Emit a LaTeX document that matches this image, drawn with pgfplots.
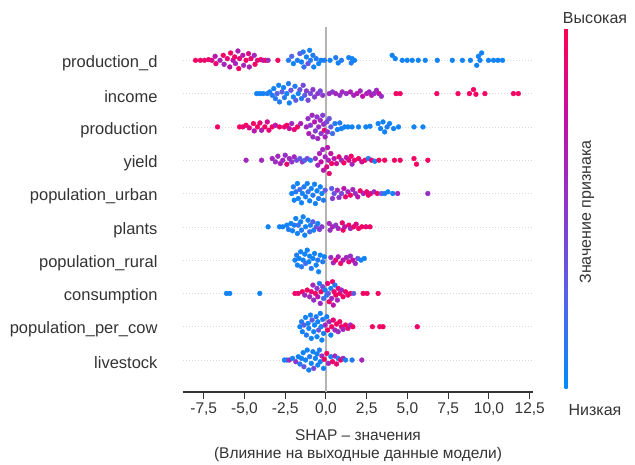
\documentclass[border=0pt]{standalone}
\usepackage{pgfplots}
\pgfplotsset{compat=1.18}
\usepackage{fontspec}
\setmainfont{Liberation Sans}
\definecolor{zeroline}{HTML}{B4B4B4}
\definecolor{spine}{HTML}{333333}
\definecolor{gridc}{HTML}{DADADA}
\pgfplotsset{
  colormap={shap}{rgb255(0cm)=(0,139,250); rgb255(1cm)=(85,100,235); rgb255(2cm)=(140,55,205); rgb255(3cm)=(195,15,165); rgb255(4cm)=(255,0,82)},
  bees/.style={scatter, only marks, mark=*, mark size=2.4pt, point meta=explicit,
    scatter/use mapped color={draw=mapped color, fill=mapped color}}
}
\begin{document}
\begin{tikzpicture}
\path[use as bounding box] (-183pt,-72pt) rectangle (452pt,392pt);
\begin{axis}[
  at={(0pt,0pt)}, anchor=south west,
  scale only axis, width=350pt, height=365pt,
  xmin=-8.77, xmax=12.7, ymin=0.04, ymax=11,
  axis x line*=bottom, axis y line*=left,
  x axis line style={spine, line width=1.2pt, -},
  y axis line style={draw=none},
  xtick={-7.5,-5,-2.5,0,2.5,5,7.5,10,12.5},
  ytick={1,2,3,4,5,6,7,8,9,10},
  yticklabels={livestock, population\_per\_cow, consumption, population\_rural, plants, population\_urban, yield, production, income, production\_d},
  tick align=outside, major tick length=7pt,
  x tick style={spine, line width=1pt},
  y tick style={draw=none},
  xticklabel style={font=\fontsize{15.5}{18}\selectfont, text=spine},
  yticklabel style={font=\fontsize{16.5}{19}\selectfont, text=spine, xshift=-15pt, yshift=-3pt},
  /pgf/number format/.cd, fixed, fixed zerofill, precision=1, use comma, assume math mode=true,
  /pgfplots/.cd,
  xlabel={SHAP – значения\\(Влияние на выходные данные модели)},
  xlabel style={align=center, font=\fontsize{15.5}{18}\selectfont, text=spine, yshift=-7pt},
  colormap name=shap,
  point meta min=0, point meta max=1,
  colorbar,
  colorbar style={at={(parent axis.north east)}, anchor=north west, xshift=23pt, yshift=-1pt,
    scale only axis, width=3pt, height=360pt, ytick=\empty, xtick=\empty,
    axis line style={draw=none}, major tick length=0pt},
]
\pgfplotsinvokeforeach{1,...,10}{\draw[gridc, line width=0.5pt, dash pattern=on 0.5pt off 2.5pt] (axis cs:-8.77,#1) -- (axis cs:12.7,#1);}
% production_d
\addplot[bees] table[x=x,y=y,meta=c] {
x y c
-8.0 10 0.95
-7.7 10 0.95
-7.45 10 0.9
-7.2 10.02 0.95
-7.0 10 0.85
-6.8 10.12 0.7
-6.75 9.9 0.9
-6.5 10 0.65
-6.3 10.15 0.95
-6.25 9.88 0.6
-6.05 10.05 0.9
-5.9 9.8 0.75
-5.85 10.22 0.95
-5.7 10 0.7
-5.6 10.1 0.95
-5.55 9.9 0.6
-5.4 10.28 0.65
-5.35 9.75 0.95
-5.3 10.05 0.9
-5.1 10.15 0.7
-5.05 9.85 0.6
-4.9 10 0.95
-4.75 10.2 0.85
-4.7 9.8 0.65
-4.6 10.05 0.9
-4.4 10.15 0.6
-4.35 9.88 0.95
-4.2 10 0.9
-4.0 10.02 0.95
-3.85 10 0.7
-3.7 10 0.95
-3.55 10 0.6
-2.95 10 0.95
-2.3 10 0.1
-2.1 10.12 0.25
-2.0 9.9 0.05
-1.75 10 0.1
-1.6 10.2 0.3
-1.5 9.95 0.05
-1.4 10.25 0.1
-1.35 9.8 0.15
-1.2 10.1 0.05
-1.1 9.9 0.35
-1.0 10.3 0.05
-0.95 10 0.1
-0.8 10.15 0.1
-0.75 9.8 0.05
-0.6 10.05 0.1
-0.45 9.9 0.05
-0.3 10 0.05
-0.1 10 0.1
0.25 10 0.05
0.6 10.08 0.1
0.75 9.92 0.05
0.95 10 0.1
1.4 10.08 0.05
1.55 9.92 0.1
1.6 10.05 0.05
1.75 10 0.05
4.06 10.15 0.05
4.25 10.05 0.05
4.68 10 0.05
4.98 10 0.05
5.29 10 0.05
5.66 10 0.05
6.09 10 0.05
6.83 10 0.05
7.75 10 0.05
8.37 10 0.05
8.86 10 0.05
9.25 9.85 0.05
9.35 10.12 0.05
9.45 10 0.05
9.55 10.22 0.05
9.97 10 0.05
10.28 10 0.05
10.55 10 0.05
10.83 10 0.05
};
% income
\addplot[bees] table[x=x,y=y,meta=c] {
x y c
-4.25 9 0.05
-4.05 9 0.05
-3.85 9 0.05
-3.6 9 0.1
-3.45 9.05 0.05
-3.3 8.95 0.1
-3.2 9.15 0.05
-3.1 8.85 0.1
-3.0 9 0.25
-2.9 9.25 0.05
-2.85 8.75 0.1
-2.7 9.05 0.3
-2.6 9.18 0.05
-2.55 8.88 0.1
-2.4 9 0.05
-2.3 9.3 0.1
-2.25 8.72 0.05
-2.15 9.1 0.35
-2.0 8.9 0.05
-1.9 9.22 0.1
-1.85 8.8 0.3
-1.7 9 0.05
-1.6 9.12 0.35
-1.5 8.85 0.1
-1.4 9.25 0.4
-1.3 8.95 0.3
-1.2 9.08 0.45
-1.1 8.8 0.4
-0.95 9 0.4
-0.8 9.12 0.5
-0.7 8.9 0.45
-0.5 9 0.5
-0.35 9.08 0.4
-0.2 8.95 0.5
0.2 9 0.55
0.4 9.05 0.5
0.6 9 0.6
0.85 8.95 0.55
1.0 9.05 0.6
1.25 9 0.55
1.5 9.05 0.65
1.7 8.95 0.6
1.9 9 0.7
2.1 9.08 0.6
2.25 8.92 0.75
2.5 9 0.65
2.65 9.05 0.6
2.8 8.95 0.7
2.95 9 0.55
3.1 9.1 0.6
3.25 9 0.75
3.4 8.92 0.55
4.3 9 0.95
4.55 9 0.95
6.8 9 0.95
8.1 9 0.95
8.8 9 0.95
9.05 9.12 0.95
9.2 8.98 0.95
9.75 9 0.95
11.5 9 0.95
11.8 9 0.95
};
% production
\addplot[bees] table[x=x,y=y,meta=c] {
x y c
-6.65 8 0.95
-5.3 8 0.95
-5.1 8 0.9
-4.9 8.05 0.95
-4.7 7.97 0.85
-4.45 8.1 0.95
-4.4 7.88 0.7
-4.2 8 0.95
-4.05 8.12 0.9
-3.95 7.9 0.65
-3.75 8 0.95
-3.6 8.15 0.8
-3.5 7.9 0.9
-3.3 8 0.95
-3.1 8.05 0.7
-2.85 8 0.95
-2.55 8 0.9
-2.4 8.05 0.95
-2.25 7.95 0.75
-2.1 8.1 0.6
-1.95 7.92 0.9
-1.75 8 0.95
-1.55 8.1 0.65
-1.2 8 0.6
-1.1 8.25 0.55
-1.05 7.8 0.65
-0.95 8.05 0.5
-0.85 8.35 0.6
-0.8 7.7 0.55
-0.7 8.15 0.7
-0.65 7.88 0.45
-0.55 8.3 0.5
-0.5 7.65 0.6
-0.45 8 0.55
-0.35 8.2 0.6
-0.3 7.8 0.5
-0.2 8.35 0.45
-0.15 8.08 0.55
-0.1 7.9 0.9
-0.05 7.7 0.6
0.05 8.15 0.4
0.1 7.85 0.55
0.2 8.25 0.35
0.3 8 0.3
0.4 7.8 0.2
0.55 8.1 0.1
0.7 7.92 0.05
0.85 8.12 0.1
0.95 7.95 0.05
1.15 8 0.05
1.35 8 0.05
1.6 8 0.05
2.0 8 0.05
2.45 8 0.05
2.7 8.02 0.05
3.2 8.1 0.05
3.35 7.95 0.05
3.5 8.15 0.05
3.6 7.85 0.05
3.75 8 0.1
3.9 8.1 0.05
4.15 7.95 0.05
4.45 8 0.05
5.4 8 0.05
5.95 8 0.05
};
% yield
\addplot[bees] table[x=x,y=y,meta=c] {
x y c
-4.9 7 0.6
-3.95 7 0.6
-3.3 7.05 0.6
-3.1 6.95 0.55
-2.95 7.12 0.6
-2.8 6.9 0.65
-2.65 7 0.6
-2.5 7.15 0.55
-2.4 6.88 0.9
-2.25 7.05 0.6
-2.1 6.95 0.5
-1.95 7.1 0.6
-1.8 7 0.4
-1.6 7.05 0.3
-1.45 6.95 0.5
-1.3 7 0.2
-1.15 7.05 0.4
-0.95 7 0.1
-0.65 7.05 0.55
-0.5 6.85 0.6
-0.4 7.2 0.65
-0.3 6.95 0.75
-0.2 7.32 0.6
-0.15 6.7 0.7
-0.05 7.1 0.6
0.05 6.8 0.85
0.1 7.38 0.7
0.15 7 0.65
0.2 6.6 0.9
0.3 7.2 0.75
0.35 6.9 0.95
0.5 7.05 0.7
0.65 6.9 0.8
0.8 7.1 0.9
0.95 7 0.6
1.1 6.92 0.95
1.25 7.08 0.7
1.4 7 0.85
1.55 7.12 0.95
1.6 6.88 0.6
1.75 7 0.9
2.0 7.05 0.95
2.2 6.95 0.8
2.4 7 0.95
2.6 7.05 0.1
2.8 7 0.9
3.0 6.97 0.05
3.25 7 0.95
3.6 7 0.95
4.2 7 0.95
4.55 7 0.95
5.4 7.05 0.95
5.55 6.88 0.95
6.25 7 0.95
};
% population_urban
\addplot[bees] table[x=x,y=y,meta=c] {
x y c
-2.1 6 0.05
-2.0 6.2 0.1
-1.95 5.8 0.05
-1.85 6.05 0.1
-1.75 6.3 0.05
-1.7 5.85 0.05
-1.6 6.12 0.2
-1.5 5.72 0.05
-1.45 6 0.05
-1.35 6.2 0.1
-1.25 5.9 0.05
-1.15 6.3 0.05
-1.1 6.05 0.15
-1.0 5.78 0.05
-0.9 6.15 0.05
-0.8 5.95 0.1
-0.7 6.28 0.05
-0.65 5.7 0.05
-0.55 6.08 0.05
-0.45 5.85 0.1
-0.35 6.2 0.05
-0.25 6 0.05
-0.15 5.8 0.1
-0.05 6.1 0.3
0.35 6.15 0.3
0.4 5.85 0.5
0.5 6 0.35
0.7 6.1 0.6
0.8 5.88 0.5
0.95 6 0.4
1.1 6.15 0.7
1.2 5.9 0.9
1.35 6.05 0.6
1.5 5.95 0.95
1.65 6.12 0.6
1.8 6 0.55
1.95 5.9 0.7
2.1 6.08 0.95
2.3 6 0.65
2.5 6.05 0.9
2.6 5.95 0.95
2.75 6 0.85
2.95 6.05 0.6
3.15 6 0.95
3.4 6 0.3
3.6 6 0.1
3.8 6.05 0.05
4.1 6 0.05
4.4 6 0.6
6.25 6 0.55
};
% plants
\addplot[bees] table[x=x,y=y,meta=c] {
x y c
-3.55 5 0.05
-2.85 5 0.05
-2.65 5 0.05
-2.4 5.05 0.05
-2.3 4.92 0.1
-2.15 5.1 0.05
-2.05 4.88 0.05
-1.95 5.05 0.1
-1.85 5.25 0.05
-1.75 4.8 0.05
-1.7 5.05 0.15
-1.55 5.15 0.05
-1.5 4.9 0.1
-1.4 5.3 0.05
-1.3 4.75 0.05
-1.25 5 0.05
-1.1 5.2 0.05
-1.0 4.85 0.2
-0.95 5.05 0.05
-0.8 5.15 0.3
-0.75 4.9 0.05
-0.6 5 0.35
-0.5 5.1 0.05
-0.4 4.92 0.45
-0.25 5 0.5
0.2 5.1 0.6
0.25 4.9 0.55
0.4 5 0.65
0.6 5.05 0.5
0.75 4.95 0.6
1.0 5.12 0.9
1.05 4.9 0.95
1.15 5 0.7
1.4 5.05 0.95
1.5 4.95 0.6
1.7 5 0.95
1.85 5.08 0.85
2.0 4.95 0.95
2.2 5 0.95
2.45 5 0.9
2.7 5 0.95
};
% population_rural
\addplot[bees] table[x=x,y=y,meta=c] {
x y c
-1.9 4 0.05
-1.8 4.15 0.1
-1.75 3.85 0.05
-1.65 4.05 0.05
-1.55 4.25 0.05
-1.5 3.8 0.1
-1.4 4 0.05
-1.3 4.18 0.05
-1.25 3.9 0.2
-1.15 4.3 0.05
-1.05 3.95 0.05
-1.0 4.12 0.05
-0.9 3.75 0.1
-0.8 4.05 0.05
-0.7 4.2 0.05
-0.6 3.85 0.05
-0.5 4 0.1
-0.45 3.65 0.05
-0.35 4.15 0.05
-0.2 3.95 0.1
-0.1 4.1 0.05
0.3 4.08 0.55
0.45 3.92 0.6
0.6 4 0.9
0.75 4.1 0.65
0.9 3.9 0.95
1.05 4 0.7
1.25 4.08 0.6
1.4 3.95 0.9
1.5 4.12 0.55
1.65 4 0.75
1.8 3.9 0.6
1.95 4.05 0.3
2.15 4 0.05
2.35 4.05 0.05
};
% consumption
\addplot[bees] table[x=x,y=y,meta=c] {
x y c
-6.1 3 0.05
-5.9 3 0.05
-4.06 3 0.05
-1.9 3 0.95
-1.7 3 0.9
-1.45 3.05 0.95
-1.3 2.95 0.6
-1.15 3.1 0.95
-1.0 2.9 0.6
-0.9 3.05 0.9
-0.8 3.25 0.6
-0.75 2.8 0.55
-0.65 3 0.95
-0.55 3.15 0.5
-0.5 2.9 0.7
-0.4 3.3 0.1
-0.35 2.7 0.6
-0.3 3.05 0.95
-0.2 3.2 0.4
-0.15 2.85 0.2
-0.05 3.1 0.05
0.05 2.95 0.1
0.1 3.3 0.9
0.15 3 0.3
0.2 2.75 0.95
0.3 3.15 0.05
0.35 2.85 0.6
0.4 3.35 0.95
0.45 2.65 0.7
0.5 3.05 0.95
0.55 3.25 0.1
0.6 2.95 0.95
0.7 2.8 0.6
0.75 3.15 0.9
0.85 3 0.95
0.95 3.1 0.6
1.05 2.9 0.95
1.2 3.05 0.95
1.35 2.95 0.9
1.5 3 0.95
1.7 3 0.3
2.28 3 0.95
2.52 3 0.95
3.2 3 0.95
};
% population_per_cow
\addplot[bees] table[x=x,y=y,meta=c] {
x y c
-1.6 2 0.05
-1.5 2.15 0.1
-1.45 1.85 0.05
-1.35 2.05 0.3
-1.25 2.28 0.05
-1.2 1.75 0.1
-1.1 2.1 0.05
-1.05 1.95 0.05
-0.95 2.35 0.05
-0.9 1.65 0.05
-0.85 2.2 0.3
-0.75 1.85 0.05
-0.7 2.05 0.05
-0.6 2.3 0.1
-0.55 1.7 0.05
-0.5 2.15 0.05
-0.45 1.9 0.35
-0.35 2.4 0.05
-0.3 2 0.05
-0.25 1.6 0.05
-0.2 2.22 0.1
-0.15 1.8 0.05
-0.05 2.05 0.6
0.05 2.3 0.05
0.1 1.9 0.95
0.2 2.15 0.6
0.3 1.75 0.05
0.35 2 0.95
0.45 2.2 0.9
0.55 1.9 0.6
0.65 2.08 0.95
0.75 1.85 0.55
0.85 2.15 0.95
0.95 2 0.9
1.05 1.92 0.6
1.2 2.05 0.95
1.35 1.95 0.9
1.5 2.05 0.6
1.65 2 0.95
2.85 2 0.95
3.3 2 0.95
3.5 2 0.95
5.6 2 0.95
};
% livestock
\addplot[bees] table[x=x,y=y,meta=c] {
x y c
-2.55 1 0.05
-2.4 1 0.1
-2.25 1 0.6
-2.05 1.05 0.05
-1.85 0.95 0.5
-1.7 1.1 0.05
-1.6 0.88 0.1
-1.5 1.05 0.05
-1.4 1.22 0.05
-1.35 0.8 0.3
-1.25 1 0.05
-1.15 1.3 0.05
-1.05 0.7 0.05
-1.0 1.1 0.1
-0.9 0.9 0.05
-0.8 1.25 0.05
-0.75 0.75 0.4
-0.65 1.05 0.05
-0.55 1.18 0.05
-0.5 0.85 0.05
-0.4 1.3 0.1
-0.35 0.95 0.05
-0.25 1.12 0.6
-0.15 0.75 0.05
-0.1 1.02 0.95
0.05 1.2 0.95
0.15 0.9 0.6
0.3 1.1 0.05
0.4 0.95 0.95
0.55 1.12 0.6
0.65 0.88 0.9
0.75 1.05 0.1
0.9 1 0.95
1.05 1.05 0.6
1.2 1 0.05
1.6 1 0.1
2.2 1 0.6
};
\draw[zeroline, line width=1.5pt] (axis cs:0,0.04) -- (axis cs:0,11);
\end{axis}
\node[font=\fontsize{16}{19}\selectfont, text=spine] at (412pt,374pt) {Высокая};
\node[font=\fontsize{16}{19}\selectfont, text=spine] at (412pt,-18pt) {Низкая};
\node[font=\fontsize{16}{19}\selectfont, text=spine, rotate=90] at (404pt,180pt) {Значение признака};
\end{tikzpicture}
\end{document}
